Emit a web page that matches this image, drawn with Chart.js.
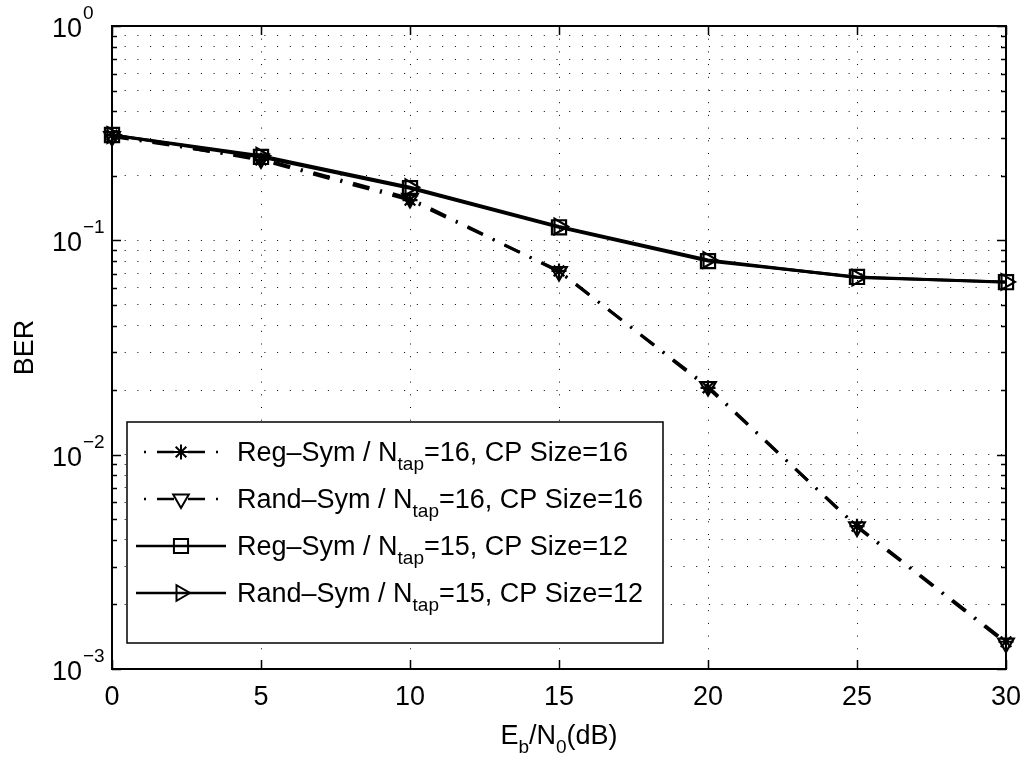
<!DOCTYPE html>
<html>
<head>
<meta charset="utf-8">
<script src="https://cdn.jsdelivr.net/npm/chart.js@4.4.0/dist/chart.umd.min.js"></script>
<style>
  html, body { margin: 0; padding: 0; background: #fff; }
  #wrap { width: 1026px; height: 761px; }
</style>
</head>
<body>
<div id="wrap"><canvas id="c" width="1026" height="761"></canvas></div>
<script>
// BER vs Eb/N0, MATLAB-style log plot

const ebn0 = [0, 5, 10, 15, 20, 25, 30];
const regSym16  = [0.310, 0.237, 0.154, 0.0720, 0.0205, 0.00464, 0.00134];
const randSym16 = [0.305, 0.240, 0.157, 0.0715, 0.0208, 0.00460, 0.00132];
const regSym15  = [0.310, 0.245, 0.175, 0.1150, 0.0800, 0.06750, 0.06380];
const randSym15 = [0.310, 0.248, 0.177, 0.1160, 0.0810, 0.06700, 0.06400];

const xTickVals = [0, 5, 10, 15, 20, 25, 30];
const yDecades = [-3, -2, -1, 0];
const seriesNames = [
  ['Reg–Sym / N', 'tap', '=16, CP Size=16'],
  ['Rand–Sym / N', 'tap', '=16, CP Size=16'],
  ['Reg–Sym / N', 'tap', '=15, CP Size=12'],
  ['Rand–Sym / N', 'tap', '=15, CP Size=12'],
];

const FONT = '"Liberation Sans", Arial, Helvetica, sans-serif';
const BIG = 27, SMALL = 19;
const dashDot = [17, 11, 2, 11];

function pts(ys) { return ebn0.map((x, i) => ({ x, y: ys[i] })); }

function ds(ys, style, rot, r, dash) {
  return {
    data: pts(ys),
    borderColor: '#000',
    borderWidth: 3,
    borderDash: dash,
    pointStyle: style,
    pointRotation: rot,
    pointRadius: r,
    pointBorderWidth: 2.2,
    pointBorderColor: '#000',
    pointBackgroundColor: 'rgba(0,0,0,0)',
    fill: false,
    tension: 0,
    clip: false,
  };
}

const datasets = [
  ds(regSym16, 'star', 0, 7.5, dashDot),
  ds(randSym16, 'triangle', 180, 9, dashDot),
  ds(regSym15, 'rect', 0, 10, []),
  ds(randSym15, 'triangle', 90, 9, []),
];

// axes box, inward ticks, tick labels, titles and legend
const matlabAxes = {
  id: 'matlabAxes',
  afterDatasetsDraw(chart) {
    const ctx = chart.ctx;
    const a = chart.chartArea;
    const xs = chart.scales.x, ys = chart.scales.y;
    ctx.save();
    ctx.setLineDash([]);
    ctx.strokeStyle = '#000';
    ctx.lineWidth = 2;
    ctx.strokeRect(a.left, a.top, a.right - a.left, a.bottom - a.top);

    ctx.lineWidth = 1.5;
    ctx.beginPath();
    xTickVals.forEach(v => {
      const px = Math.round(xs.getPixelForValue(v)) + 0.5;
      ctx.moveTo(px, a.bottom); ctx.lineTo(px, a.bottom - 9);
      ctx.moveTo(px, a.top); ctx.lineTo(px, a.top + 9);
    });
    yDecades.forEach(e => {
      for (let m = 1; m <= 9; m++) {
        if (e === 0 && m > 1) break;
        const len = m === 1 ? 9 : 5;
        const py = Math.round(ys.getPixelForValue(m * Math.pow(10, e))) + 0.5;
        ctx.moveTo(a.left, py); ctx.lineTo(a.left + len, py);
        ctx.moveTo(a.right, py); ctx.lineTo(a.right - len, py);
      }
    });
    ctx.stroke();

    ctx.fillStyle = '#000';
    // x tick labels
    ctx.font = BIG + 'px ' + FONT;
    ctx.textAlign = 'center';
    ctx.textBaseline = 'alphabetic';
    xTickVals.forEach(v => ctx.fillText(String(v), xs.getPixelForValue(v), 705));

    // y tick labels 10^e
    yDecades.forEach(e => {
      const py = ys.getPixelForValue(Math.pow(10, e));
      ctx.font = BIG + 'px ' + FONT;
      ctx.textAlign = 'right';
      ctx.fillText('10', 82, py + 11);
      ctx.font = SMALL + 'px ' + FONT;
      ctx.textAlign = 'left';
      ctx.fillText(e === 0 ? '0' : '\u2212' + (-e), 83, py - 7);
    });

    // x title E_b/N_0(dB)
    drawRich(ctx, [['E', 0], ['b', 1], ['/N', 0], ['0', 1], ['(dB)', 0]], (a.left + a.right) / 2, 744, 'center');

    // y title
    ctx.save();
    ctx.translate(33, (a.top + a.bottom) / 2);
    ctx.rotate(-Math.PI / 2);
    ctx.font = BIG + 'px ' + FONT;
    ctx.textAlign = 'center';
    ctx.fillText('BER', 0, 0);
    ctx.restore();

    drawLegend(ctx);
    ctx.restore();
  }
};

// text runs: [text, 0 normal | 1 subscript]
function drawRich(ctx, runs, x, y, align) {
  const fonts = [BIG + 'px ' + FONT, SMALL + 'px ' + FONT];
  let total = 0;
  runs.forEach(r => { ctx.font = fonts[r[1]]; total += ctx.measureText(r[0]).width; });
  let cx = align === 'center' ? x - total / 2 : x;
  ctx.textAlign = 'left';
  runs.forEach(r => {
    ctx.font = fonts[r[1]];
    ctx.fillText(r[0], cx, r[1] ? y + 9 : y);
    cx += ctx.measureText(r[0]).width;
  });
}

function drawLegend(ctx) {
  const bx = 127, by = 422, bw = 536, bh = 221;
  ctx.fillStyle = '#fff';
  ctx.fillRect(bx, by, bw, bh);
  ctx.strokeStyle = '#000';
  ctx.lineWidth = 1.5;
  ctx.setLineDash([]);
  ctx.strokeRect(bx, by, bw, bh);
  const rowY = [452, 499, 546, 593];
  datasets.forEach((d, i) => {
    const y = rowY[i];
    ctx.save();
    ctx.strokeStyle = '#000';
    ctx.lineWidth = 2.5;
    ctx.beginPath();
    if (d.borderDash.length) {
      // dot, dash, marker, dash, dot
      [[144, 146], [157, 174], [188, 205], [216, 218]].forEach(s => {
        ctx.moveTo(s[0], y); ctx.lineTo(s[1], y);
      });
    } else {
      ctx.moveTo(136, y); ctx.lineTo(226, y);
    }
    ctx.stroke();
    ctx.lineWidth = 2;
    ctx.fillStyle = 'rgba(0,0,0,0)';
    Chart.helpers.drawPoint(ctx, {
      pointStyle: d.pointStyle, rotation: d.pointRotation,
      radius: d.pointRadius, borderWidth: 2
    }, 181, y);
    ctx.restore();
    ctx.fillStyle = '#000';
    const n = seriesNames[i];
    drawRich(ctx, [[n[0], 0], [n[1], 1], [n[2], 0]], 237, y + 9, 'left');
  });
}

new Chart(document.getElementById('c'), {
  type: 'line',
  data: { datasets },
  options: {
    responsive: false,
    animation: false,
    devicePixelRatio: 1,
    layout: { padding: { left: 0, top: 26, right: 20, bottom: 0 } },
    plugins: { legend: { display: false }, tooltip: { enabled: false } },
    scales: {
      x: {
        type: 'linear', min: 0, max: 30,
        afterBuildTicks: s => { s.ticks = xTickVals.map(v => ({ value: v })); },
        afterFit: s => { s.height = 92; },
        ticks: { display: false },
        grid: { color: '#000', lineWidth: 1, drawTicks: false },
        border: { display: false, dash: [1, 11.7] }
      },
      y: {
        type: 'logarithmic', min: 0.001, max: 1,
        afterBuildTicks: s => {
          const t = [];
          yDecades.forEach(e => {
            for (let m = 1; m <= 9; m++) {
              if (e === 0 && m > 1) break;
              t.push({ value: m * Math.pow(10, e) });
            }
          });
          s.ticks = t;
        },
        afterFit: s => { s.width = 112; },
        ticks: { display: false },
        grid: { color: '#000', lineWidth: 1, drawTicks: false },
        border: { display: false, dash: [1, 11.7] }
      }
    }
  },
  plugins: [matlabAxes]
});
</script>
</body>
</html>
